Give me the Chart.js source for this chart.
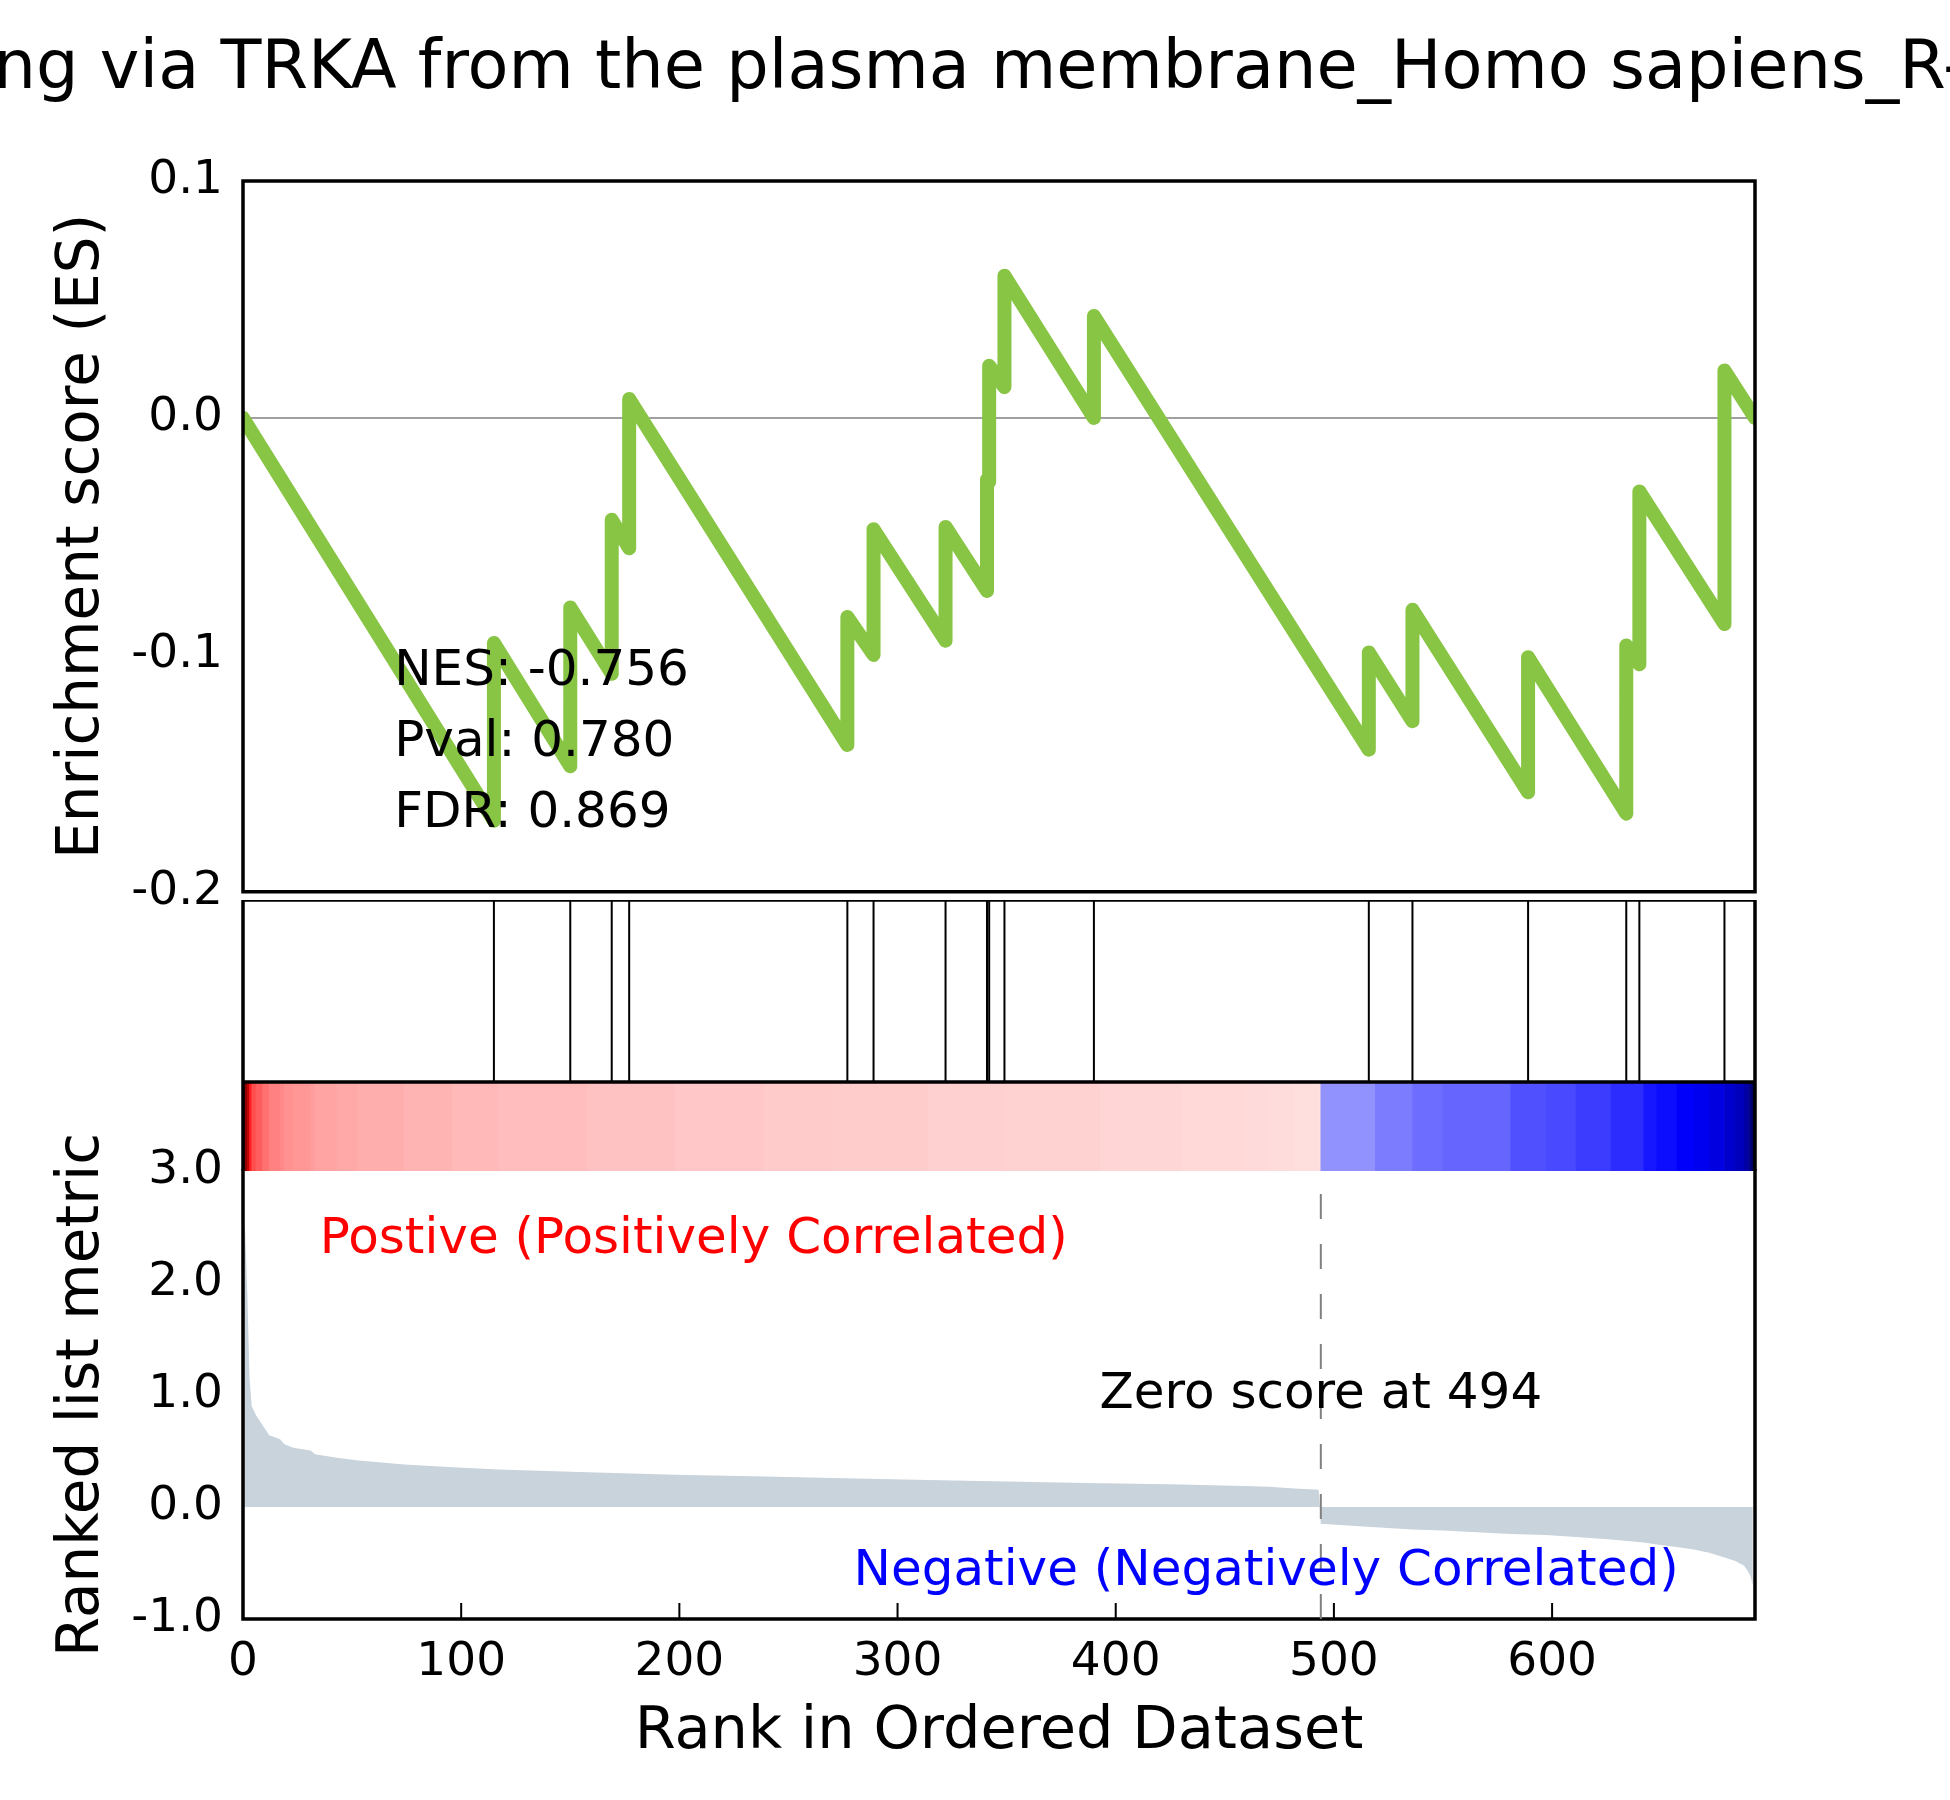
<!DOCTYPE html>
<html>
<head>
<meta charset="utf-8">
<script src="https://cdn.jsdelivr.net/npm/chart.js@4.4.1/dist/chart.umd.min.js"></script>
<style>
  body { margin: 0; background: #fff; }
  #wrap { position: relative; width: 1950px; height: 1800px; overflow: hidden; }
  #wrap canvas { position: absolute; left: 0; }
</style>
</head>
<body>
<div id="wrap">
  <canvas id="heatChart" width="1950" height="89" style="top:1082px"></canvas>
  <canvas id="hitChart" width="1950" height="182" style="top:900px"></canvas>
  <canvas id="rankChart" width="1950" height="680" style="top:1120px"></canvas>
  <canvas id="esChart" width="1950" height="940" style="top:0px"></canvas>
</div>
<script>
const FONT = "DejaVu Sans";
const TITLE = "NGF signalling via TRKA from the plasma membrane_Homo sapiens_R-HSA-187037";
const N_GENES = 693;
const ZERO_SCORE = 494;

// positions of the gene set members in the ranked list
const hitRanks = [115, 150, 169, 177, 277, 289, 322, 341, 342, 349, 390, 516, 536, 589, 634, 640, 679];

// running enrichment score, read at the corners of the curve
const esRanks = [0, 115, 115, 150, 150, 169, 169, 177, 177, 277, 277, 289, 289, 322, 322, 341, 341, 342, 342,
                 349, 349, 390, 390, 516, 516, 536, 536, 589, 589, 634, 634, 640, 640, 679, 679, 693];
const esValues = [0, -0.170, -0.095, -0.147, -0.080, -0.108, -0.043, -0.055, 0.008, -0.138, -0.084, -0.100, -0.047,
                  -0.094, -0.046, -0.073, -0.026, -0.027, 0.022, 0.013, 0.060, 0.000, 0.043, -0.140, -0.099,
                  -0.128, -0.081, -0.158, -0.101, -0.167, -0.096, -0.104, -0.031, -0.087, 0.020, 0.000];

// ranked list metric
const rmRanks = [0, 1, 2, 3, 4, 6, 9, 12, 17, 19, 23, 31, 33, 43, 53, 74, 96, 117, 158, 198,
                 239, 270, 314, 350, 393, 402, 430, 459, 470, 482, 493,
                 494, 519, 536, 550, 581, 597, 611, 627, 642, 648, 657, 665, 672, 679, 684, 688, 690, 691, 692];
const rmValues = [2.60, 2.45, 1.90, 1.15, 0.90, 0.82, 0.73, 0.64, 0.605, 0.56, 0.53, 0.505, 0.47, 0.44, 0.415, 0.38, 0.355, 0.335, 0.31, 0.288,
                  0.272, 0.26, 0.242, 0.228, 0.213, 0.21, 0.20, 0.188, 0.18, 0.166, 0.155,
                  -0.15, -0.18, -0.20, -0.21, -0.24, -0.25, -0.268, -0.29, -0.318, -0.334, -0.357, -0.38, -0.408, -0.45, -0.482, -0.525, -0.58, -0.62, -0.70];

const esTicks = [-0.2, -0.1, 0.0, 0.1];
const rmTicks = [-1, 0, 1, 2, 3];
const rankTicks = [0, 100, 200, 300, 400, 500, 600];
const statLabels = ["NES: -0.756", "Pval: 0.780", "FDR: 0.869"];

Chart.defaults.font.family = FONT;
Chart.defaults.color = "#000";

const base = {
  responsive: false,
  animation: false,
  devicePixelRatio: 1,
  events: [],
  plugins: { legend: { display: false }, tooltip: { enabled: false } }
};

// black spines round the plot area
function frame(sides) {
  return {
    id: "frame",
    afterDraw(chart) {
      const { ctx, chartArea: a } = chart;
      ctx.save();
      ctx.strokeStyle = "#000";
      ctx.lineWidth = 3.5;
      ctx.lineCap = "square";
      ctx.beginPath();
      if (sides.includes("t")) { ctx.moveTo(a.left, a.top); ctx.lineTo(a.right, a.top); }
      if (sides.includes("b")) { ctx.moveTo(a.left, a.bottom); ctx.lineTo(a.right, a.bottom); }
      if (sides.includes("l")) { ctx.moveTo(a.left, a.top); ctx.lineTo(a.left, a.bottom); }
      if (sides.includes("r")) { ctx.moveTo(a.right, a.top); ctx.lineTo(a.right, a.bottom); }
      ctx.stroke();
      ctx.restore();
    }
  };
}

// matplotlib 'seismic' colormap with the midpoint at zero
const seismic = [[0, 0, 0.3], [0, 0, 1], [1, 1, 1], [1, 0, 0], [0.5, 0, 0]];
const vmax = Math.max(...rmValues);
const vmin = Math.min(...rmValues);
function seismicColor(v) {
  let t = v >= 0 ? 0.5 + 0.5 * v / vmax : 0.5 - 0.5 * v / vmin;
  t = Math.min(Math.max(t, 0), 1);
  const p = t * 4;
  const i = Math.min(Math.floor(p), 3);
  const f = p - i;
  const c = seismic[i].map((s, k) => Math.round(255 * (s + (seismic[i + 1][k] - s) * f)));
  return `rgb(${c[0]},${c[1]},${c[2]})`;
}

// ---------- enrichment score panel ----------
new Chart(document.getElementById("esChart"), {
  type: "line",
  data: {
    datasets: [
      {
        data: [{ x: 0, y: 0 }, { x: N_GENES, y: 0 }],
        borderColor: "#808080",
        borderWidth: 1.5,
        pointRadius: 0,
        clip: 0,
        order: 2
      },
      {
        data: esRanks.map((r, i) => ({ x: r, y: esValues[i] })),
        borderColor: "#88C544",
        borderWidth: 14,
        borderJoinStyle: "round",
        borderCapStyle: "round",
        pointRadius: 0,
        tension: 0,
        clip: 0,
        order: 1
      }
    ]
  },
  options: {
    ...base,
    layout: { padding: { top: 181, right: 195, bottom: 40, left: 0 } },
    scales: {
      x: { type: "linear", min: 0, max: N_GENES, display: false },
      y: {
        type: "linear", min: -0.2, max: 0.1,
        afterBuildTicks: s => { s.ticks = esTicks.map(v => ({ value: v })); },
        afterFit: s => { s.width = 243; },
        grid: { display: false, drawTicks: false },
        border: { display: false },
        ticks: { font: { size: 47 }, padding: 20, callback: v => v.toFixed(1) },
        title: { display: true, text: "Enrichment score (ES)", font: { size: 58 }, padding: { top: 48, bottom: 0 } }
      }
    }
  },
  plugins: [frame("tblr"), {
    id: "esText",
    afterDraw(chart) {
      const { ctx, chartArea: a } = chart;
      ctx.save();
      ctx.fillStyle = "#000";
      ctx.textBaseline = "alphabetic";
      ctx.font = `67px "${FONT}"`;
      ctx.textAlign = "center";
      ctx.fillText(TITLE, 991, 88);
      ctx.font = `50px "${FONT}"`;
      ctx.textAlign = "left";
      const h = a.bottom - a.top;
      statLabels.forEach((t, i) => {
        ctx.fillText(t, a.left + 0.1 * (a.right - a.left), a.bottom - (0.3 - 0.1 * i) * h + 6);
      });
      ctx.restore();
    }
  }]
});

// ---------- hit markers ----------
const hitData = [];
hitRanks.forEach(r => { hitData.push({ x: r, y: 0 }, { x: r, y: 1 }, { x: r, y: null }); });
new Chart(document.getElementById("hitChart"), {
  type: "line",
  data: {
    datasets: [{
      data: hitData,
      borderColor: "#000",
      borderWidth: 2,
      pointRadius: 0,
      spanGaps: false,
      clip: 0
    }]
  },
  options: {
    ...base,
    layout: { padding: { top: 0, right: 195, bottom: 0, left: 243 } },
    scales: {
      x: { type: "linear", min: 0, max: N_GENES, display: false },
      y: { type: "linear", min: 0, max: 1, display: false }
    }
  },
  plugins: [frame("tblr")]
});

// ---------- colour strip of the ranked metric ----------
const heatSegs = [];
for (let i = 0; i < rmRanks.length - 1; i++) {
  heatSegs.push({ x: [rmRanks[i], rmRanks[i + 1]], y: "m" });
}
heatSegs.push({ x: [rmRanks[rmRanks.length - 1], N_GENES], y: "m" });
new Chart(document.getElementById("heatChart"), {
  type: "bar",
  data: {
    labels: ["m"],
    datasets: [{
      data: heatSegs,
      backgroundColor: rmValues.map(seismicColor),
      borderWidth: 0,
      barPercentage: 1,
      categoryPercentage: 1
    }]
  },
  options: {
    ...base,
    indexAxis: "y",
    layout: { padding: { top: 0, right: 195, bottom: 0, left: 243 } },
    scales: {
      x: { type: "linear", min: 0, max: N_GENES, display: false },
      y: { type: "category", display: false }
    }
  },
  plugins: [frame("tlr")]
});

// ---------- ranked list metric ----------
new Chart(document.getElementById("rankChart"), {
  type: "line",
  data: {
    datasets: [{
      data: rmRanks.map((r, i) => ({ x: r, y: rmValues[i] })),
      borderWidth: 0,
      backgroundColor: "#C9D3DB",
      fill: "origin",
      pointRadius: 0,
      tension: 0,
      clip: 0
    }]
  },
  options: {
    ...base,
    layout: { padding: { top: 51, right: 195, bottom: 0, left: 0 } },
    scales: {
      x: {
        type: "linear", min: 0, max: N_GENES,
        afterBuildTicks: s => { s.ticks = rankTicks.map(v => ({ value: v })); },
        afterFit: s => { s.height = 181; },
        grid: { display: false, drawTicks: false },
        border: { display: false },
        ticks: { font: { size: 47 }, padding: 16, maxRotation: 0, autoSkip: false },
        title: { display: true, text: "Rank in Ordered Dataset", font: { size: 59 }, padding: { top: 0, bottom: 32 } }
      },
      y: {
        type: "linear", min: -1, max: 3,
        afterBuildTicks: s => { s.ticks = rmTicks.map(v => ({ value: v })); },
        afterFit: s => { s.width = 243; },
        grid: { display: false, drawTicks: false },
        border: { display: false },
        ticks: { font: { size: 47 }, padding: 20, callback: v => v.toFixed(1) },
        title: { display: true, text: "Ranked list metric", font: { size: 58 }, padding: { top: 48, bottom: 0 } }
      }
    }
  },
  plugins: [frame("blr"), {
    id: "rankExtras",
    afterDraw(chart) {
      const { ctx, chartArea: a } = chart;
      const xs = chart.scales.x, ys = chart.scales.y;
      ctx.save();
      // inward ticks on the rank axis
      ctx.strokeStyle = "#000";
      ctx.lineWidth = 2;
      ctx.beginPath();
      rankTicks.forEach(v => {
        const px = xs.getPixelForValue(v);
        ctx.moveTo(px, a.bottom);
        ctx.lineTo(px, a.bottom - 16);
      });
      ctx.stroke();
      // zero crossing marker
      const zx = xs.getPixelForValue(ZERO_SCORE);
      ctx.strokeStyle = "#808080";
      ctx.lineWidth = 2;
      ctx.setLineDash([25, 25]);
      ctx.beginPath();
      ctx.moveTo(zx, a.bottom);
      ctx.lineTo(zx, a.top);
      ctx.stroke();
      ctx.setLineDash([]);
      ctx.font = `50px "${FONT}"`;
      ctx.textBaseline = "alphabetic";
      ctx.fillStyle = "#ff0000";
      ctx.textAlign = "left";
      ctx.fillText("Postive (Positively Correlated)", xs.getPixelForValue(35.2), ys.getPixelForValue(2.27));
      ctx.fillStyle = "#0000ff";
      ctx.textAlign = "right";
      ctx.fillText("Negative (Negatively Correlated)", xs.getPixelForValue(658), ys.getPixelForValue(-0.70));
      ctx.fillStyle = "#000";
      ctx.textAlign = "center";
      ctx.textBaseline = "middle";
      ctx.fillText("Zero score at " + ZERO_SCORE, zx, ys.getPixelForValue(1.0));
      ctx.restore();
    }
  }]
});
</script>
</body>
</html>
